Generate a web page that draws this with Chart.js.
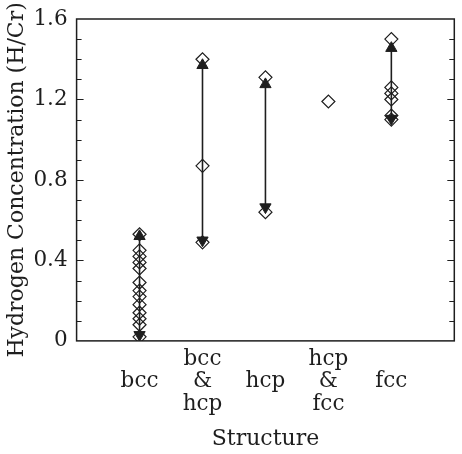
<!DOCTYPE html>
<html>
<head>
<meta charset="utf-8">
<script src="https://cdn.jsdelivr.net/npm/chart.js@4/dist/chart.umd.min.js"></script>
<style>
  html, body { margin: 0; padding: 0; background: #fff; }
  #wrap { width: 462px; height: 454px; }
</style>
</head>
<body>
<div id="wrap"><canvas id="chart" width="462" height="454"></canvas></div>
<script>
// category labels along the bottom (multi-line ones are stacked)
const categories = [["", "bcc", ""], ["bcc", "&", "hcp"], ["", "hcp", ""], ["hcp", "&", "fcc"], ["", "fcc", ""]];
const categoryPos = [1, 2, 3, 4, 5];

// measured H/Cr values per structure
const bccValues = [0.53, 0.45, 0.42, 0.39, 0.36, 0.29, 0.25, 0.22, 0.18, 0.14, 0.11, 0.08, 0.02];
const bccHcpValues = [1.40, 0.87, 0.49];
const hcpValues = [1.31, 0.64];
const hcpFccValues = [1.19];
const fccValues = [1.50, 1.26, 1.23, 1.20, 1.12, 1.10];

// ranges shown with double arrows (null = no arrow)
const arrowHigh = [0.52, 1.37, 1.275, null, 1.455];
const arrowLow = [0.03, 0.50, 0.665, null, 1.105];

const yTicks = [0, 0.4, 0.8, 1.2, 1.6];
const yMinorStep = 0.1;

const INK = "#1e1e1e";
const FONT = "'DejaVu Serif', 'Liberation Serif', serif";

const groups = [bccValues, bccHcpValues, hcpValues, hcpFccValues, fccValues];

const datasets = [];

// arrows first so the diamonds sit on top
arrowHigh.forEach((hi, i) => {
  if (hi === null) return;
  datasets.push({
    type: "line",
    data: [{ x: categoryPos[i], y: hi }, { x: categoryPos[i], y: arrowLow[i] }],
    borderColor: INK,
    borderWidth: 1.6,
    pointStyle: "triangle",
    pointRotation: [0, 180],
    pointRadius: 6.5,
    pointBackgroundColor: INK,
    pointBorderColor: INK,
    pointBorderWidth: 1,
    showLine: true,
    fill: false
  });
});

groups.forEach((vals, i) => {
  datasets.push({
    type: "scatter",
    data: vals.map((v) => ({ x: categoryPos[i], y: v })),
    pointStyle: "rectRot",
    pointRadius: 6.5,
    pointBackgroundColor: "rgba(255,255,255,0)",
    pointBorderColor: INK,
    pointBorderWidth: 1.2
  });
});

// frame box plus inward ticks on left and right
const framePlugin = {
  id: "frame",
  afterDraw(chart) {
    const { ctx, chartArea: a, scales } = chart;
    const y = scales.y;
    ctx.save();
    ctx.strokeStyle = INK;
    ctx.lineWidth = 1.5;
    ctx.strokeRect(a.left, a.top, a.right - a.left, a.bottom - a.top);
    ctx.lineWidth = 1;
    const n = Math.round((y.max - y.min) / yMinorStep);
    for (let k = 1; k < n; k++) {
      const py = Math.round(y.getPixelForValue(y.min + k * yMinorStep)) + 0.5;
      const len = k % 4 === 0 ? 7 : 5;
      ctx.beginPath();
      ctx.moveTo(a.left, py);
      ctx.lineTo(a.left + len, py);
      ctx.moveTo(a.right, py);
      ctx.lineTo(a.right - len, py);
      ctx.stroke();
    }
    ctx.restore();
  }
};

new Chart(document.getElementById("chart"), {
  type: "scatter",
  data: { datasets },
  options: {
    responsive: false,
    animation: false,
    layout: { padding: { left: 4, right: 6, top: 19, bottom: 2 } },
    plugins: { legend: { display: false }, tooltip: { enabled: false } },
    scales: {
      x: {
        type: "linear",
        min: 0,
        max: 6,
        afterBuildTicks: (s) => { s.ticks = categoryPos.map((v) => ({ value: v })); },
        ticks: {
          color: INK,
          font: { family: FONT, size: 21.5, lineHeight: 1.05 },
          padding: -1,
          maxRotation: 0,
          autoSkip: false,
          callback: (v) => categories[categoryPos.indexOf(v)] || ""
        },
        grid: { display: false },
        border: { display: false },
        title: {
          display: true,
          text: "Structure",
          color: INK,
          font: { family: FONT, size: 22 },
          padding: { top: 11, bottom: 0 }
        }
      },
      y: {
        min: 0,
        max: 1.6,
        afterBuildTicks: (s) => { s.ticks = yTicks.map((v) => ({ value: v })); },
        ticks: {
          color: INK,
          font: { family: FONT, size: 21.5 },
          padding: 1,
          callback: (v) => String(v)
        },
        grid: { display: false },
        border: { display: false },
        title: {
          display: true,
          text: "Hydrogen Concentration (H/Cr)",
          color: INK,
          font: { family: FONT, size: 22 },
          padding: { top: 0, bottom: 2 }
        }
      }
    }
  },
  plugins: [framePlugin]
});
</script>
</body>
</html>
